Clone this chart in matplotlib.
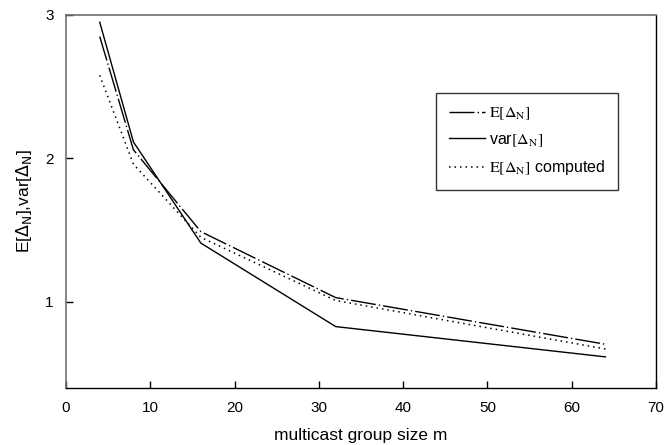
import matplotlib
matplotlib.use("Agg")
import matplotlib.pyplot as plt

plt.rcParams['font.family'] = ['Liberation Sans', 'DejaVu Sans']
plt.rcParams['mathtext.fontset'] = 'stix'

m = [4, 8, 16, 32, 64]
e_delta = [2.85, 2.06, 1.49, 1.03, 0.705]
var_delta = [2.95, 2.115, 1.41, 0.828, 0.617]
e_computed = [2.58, 1.96, 1.45, 1.01, 0.672]

xticks = [0, 10, 20, 30, 40, 50, 60, 70]
yticks = [1, 2, 3]

fig = plt.figure(figsize=(6.64, 4.45), dpi=100)
ax = fig.add_axes([66/664, 1-388/445, 590/664, 373/445])

ax.plot(m, e_delta, color='black', lw=1.0, linestyle=(0, (18, 2.2, 1, 2.2)),
        label=r'$\mathrm{E}[\Delta_\mathrm{N}]$')
ax.plot(m, var_delta, color='black', lw=1.0, linestyle='-',
        label=r'var$[\Delta_\mathrm{N}]$')
ax.plot(m, e_computed, color='black', lw=1.1, linestyle=(0, (1, 2.6)),
        label=r'$\mathrm{E}[\Delta_\mathrm{N}]$ computed')

ax.set_xlim(0, 70)
ax.set_ylim(0.4, 3)
ax.set_xticks(xticks)
ax.set_yticks(yticks)
ax.tick_params(direction='in', length=5, width=1, labelsize=11, color='black')
ax.tick_params(axis='x', pad=9)
ax.tick_params(axis='y', pad=9)

for s in ['top', 'left']:
    ax.spines[s].set_color('#707070')
    ax.spines[s].set_linewidth(1.2)
for s in ['bottom', 'right']:
    ax.spines[s].set_color('black')
    ax.spines[s].set_linewidth(1.0)

ax.set_xlabel('multicast group size m', fontsize=12.5, labelpad=10)
ax.set_ylabel(r'E[$\Delta_\mathrm{N}$],var[$\Delta_\mathrm{N}$]', fontsize=12.5,
              labelpad=8, math_fontfamily='dejavusans')

leg = ax.legend(loc='upper left', bbox_to_anchor=(0.627, 0.791), fontsize=11.5,
                frameon=True, fancybox=False, edgecolor='black',
                handlelength=2.3, handletextpad=0.2, labelspacing=0.6,
                borderpad=0.8, borderaxespad=0)
leg.get_frame().set_linewidth(1.0)

fig.savefig('out.png', dpi=100)
